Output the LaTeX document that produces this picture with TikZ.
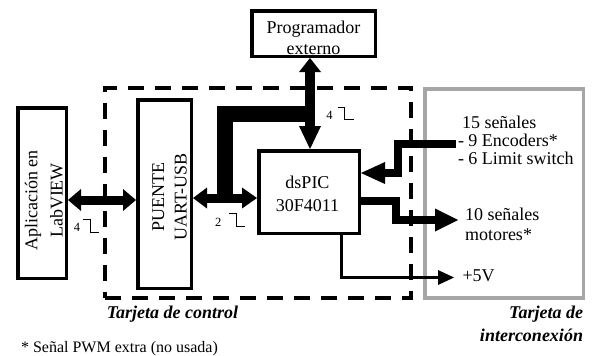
\documentclass[tikz,border=0pt]{standalone}
\usepackage{fontspec}
\setmainfont{Liberation Serif}
\usetikzlibrary{arrows.meta}
\tikzset{
  fallstep/.pic={\draw[line width=0.9pt, line cap=butt, line join=miter] (0,0) -- (7,0) -- (7,12.5) -- (16,12.5);},
}
\begin{document}
\begin{tikzpicture}[x=1pt, y=-1pt,
  box/.style={draw, line width=3.5pt, rectangle, inner sep=0pt},
  ctrlframe/.style={draw, line width=3.5pt, dash pattern=on 16pt off 11pt, inner sep=0pt},
  grayframe/.style={draw=black!35, line width=3.5pt, inner sep=0pt},
  txt/.style={inner sep=0pt, outer sep=0pt, font=\fontsize{18}{21}\selectfont},
  num/.style={inner sep=0pt, outer sep=0pt, font=\fontsize{12.5}{14}\selectfont},
  bus/.style={line width=16pt, line join=miter, line cap=butt},
  dbl/.style={line width=9pt, line cap=butt},
  fat/.style={line width=8pt, line join=miter, line cap=butt},
  thinarrow/.style={line width=2.8pt, line join=miter, line cap=butt, arrows={-Triangle[length=16pt,width=15pt,line width=0pt]}},
]
\useasboundingbox (0,0) rectangle (592,356);

% frames
\node[ctrlframe, minimum width=306pt, minimum height=210pt] (ctrl) at (258,193) {};
\node[grayframe, minimum width=158.5pt, minimum height=209pt] (inter) at (504.25,193.5) {};

% boxes
\node[box, minimum width=123.5pt, minimum height=45.5pt] (prog) at (313.5,33.5) {};
\node[box, minimum width=48.5pt, minimum height=170.5pt] (lab) at (42,193) {};
\node[box, minimum width=53.5pt, minimum height=188.5pt] (puente) at (164.5,194) {};
\node[box, minimum width=100.5pt, minimum height=82.5pt] (dsp) at (309,192) {};

% box texts
\node[txt, anchor=base] (progt) at (313.5,33.3) {\begin{tabular}[t]{@{}c@{}}Programador\\externo\end{tabular}};
\node[txt, rotate=90, anchor=base, font=\fontsize{18}{25}\selectfont] (labt) at (37.5,200.5) {\begin{tabular}[t]{@{}c@{}}Aplicación en\\LabVIEW\end{tabular}};
\node[txt, rotate=90, anchor=base, font=\fontsize{18}{22.7}\selectfont] (puentet) at (164,197) {\begin{tabular}[t]{@{}c@{}}PUENTE\\UART-USB\end{tabular}};
\node[txt, anchor=base, font=\fontsize{18}{23.4}\selectfont] (dspt) at (307.5,188.3) {\begin{tabular}[t]{@{}c@{}}dsPIC\\30F4011\end{tabular}};

% connectors
\draw[dbl, arrows={Triangle[length=13pt,width=22pt,line width=0pt]-Triangle[length=13pt,width=22pt,line width=0pt]}] (lab.east |- 0,200) -- (puente.west |- 0,200);
\draw[dbl, arrows={Triangle[length=14pt,width=21pt,line width=0pt]-Triangle[length=15pt,width=21pt,line width=0pt]}] (puente.east |- 0,198) -- (dsp.west |- 0,198);
\coordinate (busfoot) at (225,199);
\coordinate (bustop) at (313,114);
\draw[bus] (busfoot) |- (bustop);
\draw[dbl, line width=10pt, arrows={Triangle[length=14pt,width=22pt,line width=0pt]-Triangle[length=23pt,width=22pt,line width=0pt]}] (prog.south -| 310,0) -- (dsp.north -| 310,0);

\coordinate (sigin) at (456,143.5);
\draw[fat, arrows={-Triangle[length=24pt,width=22pt,line width=0pt]}] (sigin) -| (398,173) -- (dsp.east |- 0,173);
\coordinate (motend) at (458,220);
\draw[fat, arrows={-Triangle[length=23pt,width=23pt,line width=0pt]}] (dsp.east |- 0,201) -| (396,220) -- (motend);
\coordinate (v5end) at (454,277.5);
\draw[thinarrow] (dsp.south -| 341.5,0) |- (v5end);

% bus width labels
\node[num, anchor=base] (n4a) at (77,231.5) {4};
\pic at (83,219.5) {fallstep};
\node[num, anchor=base] (n2) at (218.3,226.7) {2};
\pic at (229,213.5) {fallstep};
\node[num, anchor=base] (n4b) at (329.5,119) {4};
\pic at (337.5,107) {fallstep};

% right texts
\node[txt, anchor=base west, font=\fontsize{18}{18.3}\selectfont] (sig) at (458,128.3) {\begin{tabular}[t]{@{}l@{}}\hspace{4pt}15 señales\\- 9 Encoders*\\- 6 Limit switch\end{tabular}};
\node[txt, anchor=base west, font=\fontsize{18}{20}\selectfont] (mot) at (465,220) {\begin{tabular}[t]{@{}l@{}}10 señales\\motores*\end{tabular}};
\node[txt, anchor=base west] (v5) at (462.5,281) {+5V};

% frame labels
\node[txt, anchor=base, font=\fontsize{18}{21}\selectfont\bfseries\itshape] (ctrlt) at (172.5,318) {Tarjeta de control};
\node[txt, anchor=base east, font=\fontsize{18}{23}\selectfont\bfseries\itshape] (intert) at (583,318) {\begin{tabular}[t]{@{}r@{}}Tarjeta de\\interconexión\end{tabular}};

% footnote
\node[txt, anchor=base west, font=\fontsize{16}{19}\selectfont] (foot) at (21,352) {* Señal PWM extra (no usada)};
\end{tikzpicture}
\end{document}
